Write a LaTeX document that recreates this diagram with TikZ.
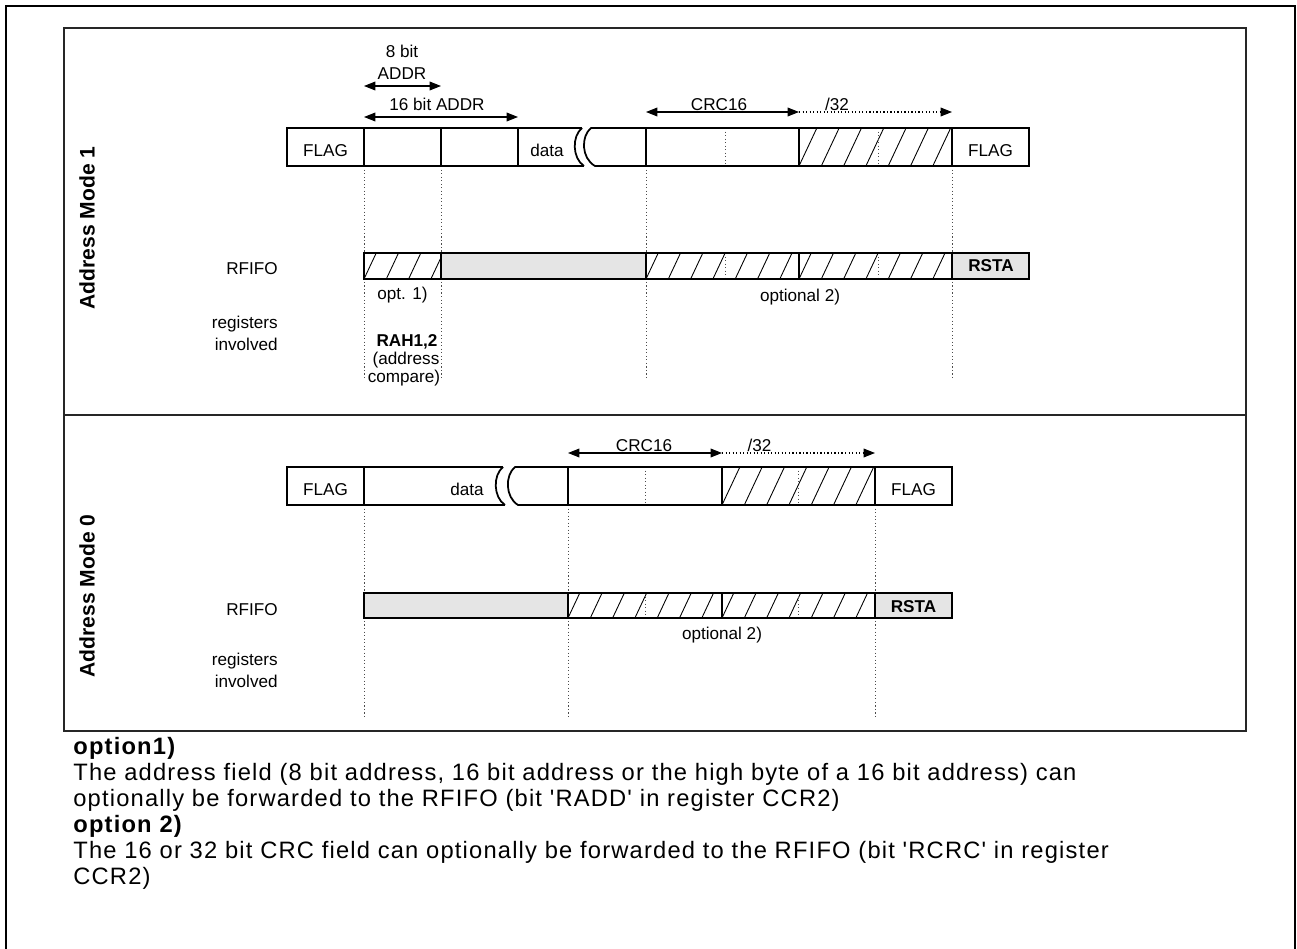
\documentclass[tikz,border=0pt]{standalone}
\usepackage{fontspec}
\setmainfont{Liberation Sans}
\newfontfamily\notefont[LetterSpace=5]{Liberation Sans}
\usetikzlibrary{arrows.meta}
\newcommand{\hatchfill}[4]{%
  \begin{scope}
    \clip (#1,#2) rectangle (#3,#4);
    \pgfmathsetmacro{\hh}{#4-#2}
    \foreach \k in {0,...,7}{
      \draw[hatchline] ({#1+\k*22.3},#4) -- ({#1+\k*22.3+0.47*\hh},#2);
    }
  \end{scope}}
\begin{document}
\begin{tikzpicture}[x=0.02cm,y=-0.02cm,
  box/.style={draw=black,line width=1pt},
  fifo/.style={draw=black,line width=1pt,fill=black!10},
  guide/.style={draw=black!70,line width=0.5pt,dash pattern=on 0.7pt off 1.3pt},
  hatchline/.style={draw=black,line width=0.5pt},
  dim/.style={line width=0.6pt,{Triangle[length=6.5pt,width=5pt]}-{Triangle[length=6.5pt,width=5pt]}},
  dimdot/.style={line width=0.6pt,dash pattern=on 0.7pt off 1.3pt,-{Triangle[length=6.5pt,width=5pt]}},
  lbl/.style={font=\fontsize{9.75}{11.7}\selectfont,inner sep=0pt,anchor=base},
  bl/.style={font=\fontsize{9.75}{11.7}\selectfont\bfseries,inner sep=0pt,anchor=base},
  lblr/.style={font=\fontsize{9.75}{11.7}\selectfont,inner sep=0pt,anchor=base east},
  mode/.style={font=\fontsize{12}{14}\selectfont\bfseries,inner sep=0pt,rotate=90},
  note/.style={font=\notefont\fontsize{13.5}{16}\selectfont,inner sep=0pt,anchor=base west},
  noteb/.style={note,font=\notefont\fontsize{13.5}{16}\selectfont\bfseries}]
\useasboundingbox (0,0) rectangle (1297,949);
% outer border
\draw[line width=1.6pt] (6,970) -- (6,6) -- (1295,6) -- (1295,970);
% inner frame
\draw[line width=0.8pt,black!85] (64,28) rectangle (1246,731);
\draw[line width=0.8pt,black!85] (64,415) -- (1246,415);
\node[mode] (m1) at (87,228) {Address Mode 1};
\node[mode] (m0) at (87,596) {Address Mode 0};

% ===== Mode 1 =====
\foreach \x in {364,441,646,952} \draw[guide] (\x,166) -- (\x,378);
% dimension arrows
\coordinate (a8s) at (364,86); \coordinate (a8e) at (441,86);
\draw[dim] (a8s) -- (a8e);
\coordinate (a16s) at (364,117); \coordinate (a16e) at (518,117);
\draw[dim] (a16s) -- (a16e);
\coordinate (c1s) at (646,112); \coordinate (c1m) at (799,112); \coordinate (c1e) at (952,112);
\draw[dim] (c1s) -- (c1m);
\draw[dimdot] (c1m) -- (c1e);
\node[lbl] (t8a) at (402,58) {8 bit};
\node[lbl] (t8b) at (402,80) {ADDR};
\node[lbl] (t16) at (437,111) {16 bit ADDR};
\node[lbl] (tc1) at (719,111) {CRC16};
\node[lbl] (t32a) at (837,111) {/32};
% frame
\hatchfill{799}{128}{952}{166}
\draw[guide] (725,128) -- (725,166);
\draw[guide] (878,128) -- (878,166);
\draw[box] (287,128) rectangle (364,166);
\draw[box] (364,128) rectangle (441,166);
\draw[box] (441,128) rectangle (518,166);
\draw[box] (582,128) -- (518,128) -- (518,166) -- (584,166);
\draw[box] (582,128) .. controls (572,136) and (572,158) .. (584,166);
\draw[box] (646,128) -- (591,128) .. controls (581,136) and (581,158) .. (595,166) -- (646,166);
\draw[box] (646,128) rectangle (799,166);
\draw[box] (799,128) rectangle (952,166);
\draw[box] (952,128) rectangle (1029,166);
\node[lbl] (f1a) at (325.5,156.7) {FLAG};
\node[lbl] (d1) at (547,156.7) {data};
\node[lbl] (f1b) at (990.5,156.7) {FLAG};
% RFIFO
\fill[black!10] (441,253) rectangle (646,279);
\fill[black!10] (952,253) rectangle (1029,279);
\hatchfill{364}{253}{441}{279}
\hatchfill{646}{253}{799}{279}
\hatchfill{799}{253}{952}{279}
\draw[guide] (725,253) -- (725,279);
\draw[guide] (878,253) -- (878,279);
\draw[box] (364,253) rectangle (441,279);
\draw[box] (441,253) rectangle (646,279);
\draw[box] (646,253) rectangle (799,279);
\draw[box] (799,253) rectangle (952,279);
\draw[box] (952,253) rectangle (1029,279);
\node[bl] (rs1) at (991,271.7) {RSTA};
\node[lblr] (rf1) at (278,275) {RFIFO};
\node[lbl] (o1) at (402.5,299) {opt. 1)};
\node[lbl] (o2a) at (800,301) {optional 2)};
\node[lblr] (rg1) at (278,328) {registers};
\node[lblr] (iv1) at (278,350) {involved};
\node[bl] (rah) at (407,346.5) {RAH1,2};
\node[lbl] (adr) at (406,364) {(address};
\node[lbl] (cmp) at (404,382) {compare)};

% ===== Mode 0 =====
\foreach \x in {364,568,875} \draw[guide] (\x,505) -- (\x,717);
\coordinate (c0s) at (568,453); \coordinate (c0m) at (722,453); \coordinate (c0e) at (875,453);
\draw[dim] (c0s) -- (c0m);
\draw[dimdot] (c0m) -- (c0e);
\node[lbl] (tc0) at (644,451) {CRC16};
\node[lbl] (t32b) at (759.5,451) {/32};
\hatchfill{722}{467}{875}{505}
\draw[guide] (645,467) -- (645,505);
\draw[guide] (798,467) -- (798,505);
\draw[box] (287,467) rectangle (364,505);
\draw[box] (503,467) -- (364,467) -- (364,505) -- (505,505);
\draw[box] (503,467) .. controls (493,475) and (493,497) .. (505,505);
\draw[box] (568,467) -- (515,467) .. controls (505,475) and (505,497) .. (518,505) -- (568,505);
\draw[box] (568,467) rectangle (722,505);
\draw[box] (722,467) rectangle (875,505);
\draw[box] (875,467) rectangle (952,505);
\node[lbl] (f0a) at (325.5,495) {FLAG};
\node[lbl] (d0) at (467,495) {data};
\node[lbl] (f0b) at (913.5,495) {FLAG};
% RFIFO
\fill[black!10] (364,593) rectangle (568,618);
\fill[black!10] (875,593) rectangle (952,618);
\hatchfill{568}{593}{722}{618}
\hatchfill{722}{593}{875}{618}
\draw[guide] (645,593) -- (645,618);
\draw[guide] (798,593) -- (798,618);
\draw[box] (364,593) rectangle (568,618);
\draw[box] (568,593) rectangle (722,618);
\draw[box] (722,593) rectangle (875,618);
\draw[box] (875,593) rectangle (952,618);
\node[bl] (rs0) at (913.5,612) {RSTA};
\node[lblr] (rf0) at (278,615) {RFIFO};
\node[lbl] (o2b) at (722,639) {optional 2)};
\node[lblr] (rg0) at (278,665) {registers};
\node[lblr] (iv0) at (278,687) {involved};

% ===== Notes =====
\node[noteb] (n1) at (73,754) {option1)};
\node[note] (n2) at (73,780) {The address field (8 bit address, 16 bit address or the high byte of a 16 bit address) can};
\node[note] (n3) at (73,806) {optionally be forwarded to the RFIFO (bit 'RADD' in register CCR2)};
\node[noteb] (n4) at (73,832) {option 2)};
\node[note] (n5) at (73,858) {The 16 or 32 bit CRC field can optionally be forwarded to the RFIFO (bit 'RCRC' in register};
\node[note] (n6) at (73,884) {CCR2)};
\end{tikzpicture}
\end{document}
